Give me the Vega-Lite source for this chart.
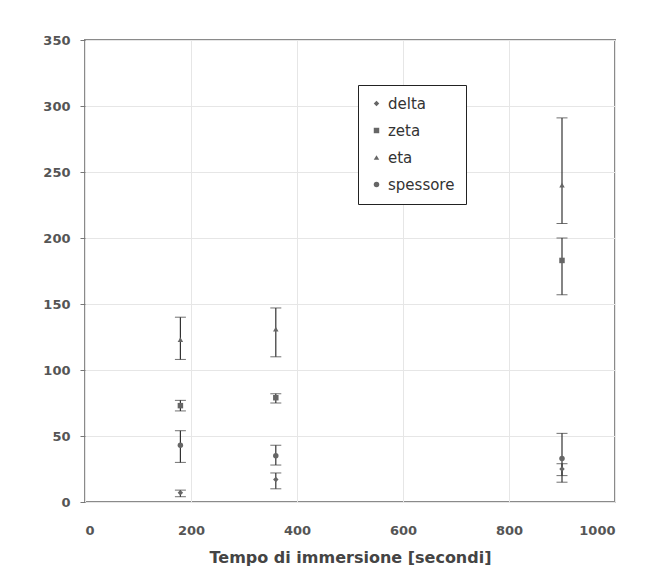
{
  "$schema": "https://vega.github.io/schema/vega-lite/v6.json",
  "width": 530,
  "height": 462,
  "autosize": "none",
  "padding": {"left": 85, "top": 40, "right": 38, "bottom": 79},
  "background": "white",
  "config": {
    "view": {"stroke": "#8a8a8a", "strokeWidth": 2},
    "font": "DejaVu Sans",
    "axis": {
      "labelFont": "DejaVu Sans",
      "labelFontWeight": "bold",
      "labelFontSize": 13,
      "labelColor": "#555",
      "gridColor": "#e6e6e6",
      "gridWidth": 1,
      "domain": false,
      "tickColor": "#777",
      "tickSize": 5,
      "titleFont": "DejaVu Sans",
      "titleFontWeight": "bold",
      "titleFontSize": 16,
      "titleColor": "#444"
    }
  },
  "data": {
    "values": [
      {"t": 180, "serie": "eta", "v": 123, "lo": 108, "hi": 140},
      {"t": 180, "serie": "zeta", "v": 73, "lo": 69, "hi": 77},
      {"t": 180, "serie": "spessore", "v": 43, "lo": 30, "hi": 54},
      {"t": 180, "serie": "delta", "v": 7, "lo": 4, "hi": 9},
      {"t": 360, "serie": "eta", "v": 131, "lo": 110, "hi": 147},
      {"t": 360, "serie": "zeta", "v": 79, "lo": 75, "hi": 82},
      {"t": 360, "serie": "spessore", "v": 35, "lo": 28, "hi": 43},
      {"t": 360, "serie": "delta", "v": 17, "lo": 10, "hi": 22},
      {"t": 900, "serie": "eta", "v": 240, "lo": 211, "hi": 291},
      {"t": 900, "serie": "zeta", "v": 183, "lo": 157, "hi": 200},
      {"t": 900, "serie": "spessore", "v": 33, "lo": 15, "hi": 52},
      {"t": 900, "serie": "delta", "v": 25, "lo": 20, "hi": 29}
    ]
  },
  "layer": [
    {
      "mark": {"type": "errorbar", "ticks": {"size": 11, "color": "#333", "strokeWidth": 1.5}, "rule": {"color": "#333", "strokeWidth": 1.2}},
      "encoding": {
        "x": {"field": "t", "type": "quantitative", "scale": {"domain": [0, 1000]}, "title": "Tempo di immersione [secondi]",
              "axis": {"values": [0, 200, 400, 600, 800, 1000], "format": "d", "labelPadding": 22, "titlePadding": 12, "tickSize": 0}},
        "y": {"field": "lo", "type": "quantitative", "scale": {"domain": [0, 350]}, "title": null,
              "axis": {"values": [0, 50, 100, 150, 200, 250, 300, 350], "labelPadding": 10}},
        "y2": {"field": "hi"}
      }
    },
    {
      "mark": {"type": "point", "size": 30, "filled": true, "opacity": 1},
      "encoding": {
        "x": {"field": "t", "type": "quantitative"},
        "y": {"field": "v", "type": "quantitative"},
        "shape": {"field": "serie", "type": "nominal",
                  "scale": {"domain": ["delta", "zeta", "eta", "spessore"], "range": ["diamond", "square", "triangle-up", "circle"]},
                  "legend": {"title": null, "orient": "none", "legendX": 273, "legendY": 45,
                             "strokeColor": "#222", "fillColor": "white", "padding": 11,
                             "labelFont": "DejaVu Sans", "labelFontWeight": "normal", "labelFontSize": 15, "labelColor": "#333",
                             "rowPadding": 11, "symbolSize": 30, "symbolFillColor": "#888", "symbolStrokeColor": "#888"}},
        "color": {"value": "#666"}
      }
    }
  ]
}
